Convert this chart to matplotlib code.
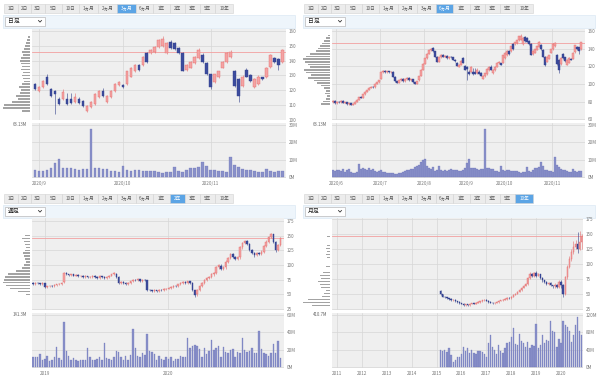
import matplotlib
matplotlib.use("Agg")
import matplotlib.pyplot as plt
from matplotlib.patches import Rectangle
import numpy as np

plt.rcParams["font.family"] = ["Noto Sans CJK JP", "DejaVu Sans"]

# ---------------- data ----------------
ranges = ["1日", "2日", "3日", "5日", "10日", "1ヵ月", "2ヵ月", "3ヵ月", "6ヵ月", "1年", "2年", "3年", "5年", "10年"]
ref_price = 146

# 3ヵ月 (daily, Sep - Nov 2020)
sep_nov_open = [124.0, 119.3, 122.0, 129.3, 120.7, 119.3, 114.0, 114.0, 114.0, 114.0, 112.0, 114.0, 112.7, 106.0, 108.7,
                110.7, 115.3, 119.3, 112.0, 115.3, 119.3, 123.3, 123.3, 124.0, 129.3, 132.7, 137.3, 137.3, 145.3, 145.3,
                146.0, 149.3, 150.0, 145.3, 152.7, 152.0, 148.7, 145.3, 134.0, 135.3, 138.7, 142.0, 144.0, 138.7, 130.7,
                125.3, 128.7, 135.3, 139.3, 142.7, 132.7, 127.3, 122.7, 134.0, 130.0, 122.0, 124.0, 128.7, 128.7, 136.0,
                142.0, 141.3, 139.3]
sep_nov_close = [120.7, 122.0, 126.0, 124.0, 116.0, 117.3, 110.7, 118.7, 110.7, 111.3, 115.3, 111.3, 109.3, 109.3, 112.0,
                 117.3, 119.3, 116.0, 116.0, 119.3, 124.0, 125.3, 122.0, 132.7, 135.3, 137.3, 134.0, 142.7, 139.3, 147.3,
                 149.3, 154.0, 154.7, 152.0, 148.7, 148.0, 145.3, 133.3, 137.3, 139.3, 142.7, 147.3, 139.3, 130.7, 122.0,
                 130.7, 132.7, 139.3, 145.3, 146.0, 122.7, 116.0, 129.3, 129.3, 126.0, 127.3, 129.3, 127.3, 135.3, 144.0,
                 139.3, 137.3, 147.3]
sep_nov_high = [125.0, 122.7, 126.7, 130.7, 121.3, 120.0, 115.3, 120.7, 118.0, 118.0, 118.0, 115.3, 113.3, 110.0, 112.7,
                118.0, 120.0, 121.3, 116.7, 120.0, 124.7, 126.0, 124.0, 133.3, 136.0, 138.0, 138.0, 143.3, 146.0, 148.0,
                150.0, 154.7, 156.7, 152.7, 154.0, 152.7, 149.3, 146.0, 138.0, 140.0, 143.3, 148.7, 145.3, 139.3, 131.3,
                131.3, 133.3, 140.0, 146.0, 147.3, 134.0, 128.0, 130.0, 135.3, 130.7, 128.0, 130.0, 129.3, 136.0, 144.7,
                142.7, 142.0, 148.0]
sep_nov_low = [120.0, 118.7, 121.3, 123.3, 115.3, 104.0, 110.0, 113.3, 110.0, 110.7, 111.3, 110.7, 108.7, 105.3, 108.0,
               110.0, 114.7, 115.3, 111.3, 114.7, 118.7, 122.7, 121.3, 123.3, 128.7, 132.0, 133.3, 136.7, 138.7, 144.7,
               145.3, 148.7, 149.3, 144.7, 148.0, 147.3, 144.7, 132.7, 133.3, 134.7, 138.0, 141.3, 138.7, 130.0, 120.7,
               124.7, 128.0, 134.7, 138.7, 142.0, 122.0, 112.0, 122.0, 128.7, 125.3, 121.3, 123.3, 126.7, 128.0, 135.3,
               138.7, 134.0, 138.7]
sep_nov_volume = [4.4, 3.8, 3.8, 4.4, 5.2, 8.3, 10.6, 5.2, 5.2, 5.4, 4.8, 4.0, 4.8, 4.8, 27.9, 5.2, 5.4, 4.8, 4.8, 3.8,
                  3.8, 3.3, 6.3, 4.4, 3.8, 4.2, 4.2, 3.8, 3.8, 3.8, 3.8, 3.3, 2.5, 2.9, 3.3, 5.8, 3.8, 2.9, 4.4, 5.2,
                  5.4, 5.8, 9.0, 6.3, 4.4, 4.2, 3.8, 3.8, 3.3, 11.5, 7.1, 5.8, 4.8, 4.4, 4.4, 3.8, 3.3, 3.3, 4.8, 3.8,
                  3.3, 3.8, 3.8]
sep_nov_ticks = [1, 22, 44]
sep_nov_labels = ["2020/9", "2020/10", "2020/11"]
sep_nov_prof_price = [106, 108, 110, 112, 114, 116, 118, 120, 122, 124, 126, 128, 130, 132, 134, 136, 138, 140, 142,
                      144, 146, 148, 150, 152, 154, 156]
sep_nov_prof_len = [8, 27, 26, 18, 12, 14, 10, 9, 11, 8, 6, 7, 8, 7, 9, 8, 9, 10, 9, 7, 8, 6, 5, 4, 3, 2]

# 6ヵ月 = Jun - Aug 2020 (daily) + the 3ヵ月 series
jun_aug_open = [79, 81, 78, 80, 79, 81, 78.5, 79.5, 77, 78, 76, 77.5, 80, 82, 85, 84, 88, 91, 93, 95.5, 97, 96, 100,
                102, 106, 113, 115, 113, 114.5, 113, 114, 108, 103, 101, 104, 106, 103, 105, 107, 104, 105, 102, 100,
                104, 109, 116, 123, 129, 134, 138, 141, 137, 131, 125, 130, 133, 131, 132, 129, 131, 130, 127.5]
jun_aug_close = [81, 78, 80, 79, 81, 78.5, 79.5, 77, 78, 76, 77.5, 80, 82, 85, 84, 88, 91, 93, 95.5, 97, 96, 100, 102,
                 104, 113, 115, 113, 114.5, 113, 114, 108, 103, 101, 104, 106, 103, 105, 107, 104, 105, 102, 100, 103,
                 109, 116, 123, 129, 134, 138, 140, 137, 131, 125, 130, 133, 131, 132, 129, 131, 130, 127.5, 126]
jun_aug_high = [82, 81.5, 80.5, 81, 82, 81.5, 80, 80, 78.5, 78.5, 78, 80.5, 82.5, 85.5, 86, 88.5, 91.5, 93.5, 96, 97.5,
                97.5, 100.5, 102.5, 104.5, 113.5, 116, 116, 115, 115, 114.5, 114.5, 108.5, 103.5, 104.5, 107, 106.5,
                105.5, 108, 107.5, 106, 105.5, 102.5, 103.5, 109.5, 116.5, 123.5, 129.5, 134.5, 138.5, 141, 142, 137.5,
                131.5, 130.5, 134, 133.5, 132.5, 132.5, 131.5, 131.5, 130.5, 128]
jun_aug_low = [78, 77.5, 77.5, 78.5, 78.5, 78, 78, 76.5, 76.5, 75.5, 75.5, 77, 79.5, 81.5, 83.5, 83.5, 87.5, 90.5, 92.5,
               95, 95.5, 95.5, 99.5, 101.5, 105.5, 112.5, 112.5, 112.5, 112.5, 112.5, 107.5, 102.5, 100.5, 100.5, 103.5,
               102.5, 102.5, 104.5, 103.5, 103.5, 101.5, 99.5, 99.5, 103.5, 108.5, 115.5, 122.5, 128.5, 133.5, 137.5,
               136.5, 130.5, 124.5, 124.5, 129.5, 130.5, 130.5, 128.5, 128.5, 129.5, 127, 125]
jun_aug_volume = [4.2, 3.8, 4.0, 4.4, 3.6, 4.6, 3.4, 4.0, 4.8, 3.0, 2.8, 2.6, 3.2, 7.4, 4.6, 5.5, 4.8, 4.2, 5.6, 4.4,
                  5.0, 3.8, 3.4, 3.6, 4.0, 3.0, 3.2, 2.6, 2.4, 2.6, 2.8, 2.2, 2.0, 2.4, 2.6, 3.2, 3.8, 4.4, 4.0, 4.6,
                  5.0, 5.8, 6.4, 7.2, 8.6, 10.2, 10.6, 6.8, 5.4, 4.8, 5.8, 3.6, 4.2, 6.6, 4.4, 3.6, 4.0, 3.6, 4.2, 5.0,
                  4.4, 4.0]
six_m_ticks = [1.5, 23.5, 45.5, 66.5, 86, 109.5]
six_m_labels = ["2020/6", "2020/7", "2020/8", "2020/9", "2020/10", "2020/11"]
six_m_prof_price = [77, 80, 83, 86, 89, 92, 95, 98, 101, 104, 107, 110, 113, 116, 119, 122, 125, 128, 131, 134, 137,
                    140, 143, 146, 149, 152, 155]
six_m_prof_len = [9, 7, 4, 3, 5, 4, 6, 9, 13, 16, 22, 19, 24, 26, 20, 22, 25, 27, 24, 20, 14, 12, 10, 8, 6, 4, 2]

# 2年 (weekly)
wk_open = [70, 68, 70, 69, 67, 69, 62, 64, 65, 64, 66, 67, 68, 71, 86, 84, 83, 84, 82, 83, 81, 82, 80, 81, 79, 80, 82,
           79, 78, 81, 80, 78, 80, 82, 84, 85, 80, 69, 71, 70, 68, 70, 72, 75, 74, 76, 73, 75, 74, 58, 57, 56, 57, 56,
           58, 57, 59, 60, 61, 63, 65, 64, 67, 69, 71, 70, 72, 70, 57, 50, 58, 64, 70, 74, 78, 80, 84, 86, 96, 99, 94,
           96, 106, 112, 118, 114, 110, 113, 130, 138, 141, 136, 126, 120, 117, 121, 119, 123, 132, 140, 148, 152, 140,
           126, 134]
wk_close = [68, 70, 69, 67, 69, 62, 64, 65, 64, 66, 67, 68, 70, 86, 84, 83, 84, 82, 83, 81, 82, 80, 81, 79, 80, 82, 79,
            78, 81, 80, 78, 80, 82, 84, 86, 80, 69, 71, 70, 68, 70, 72, 75, 74, 76, 73, 75, 74, 58, 57, 56, 57, 56, 58,
            57, 59, 60, 61, 63, 65, 64, 67, 69, 71, 70, 72, 70, 57, 49, 58, 64, 70, 74, 78, 80, 84, 86, 96, 100, 94, 96,
            106, 112, 118, 114, 110, 113, 130, 138, 141, 136, 126, 120, 117, 121, 119, 123, 132, 140, 148, 152, 140,
            126, 134, 146]
wk_high = [71.5, 71, 71.5, 70, 70.5, 70, 65, 66.5, 66, 67, 68.5, 69.5, 71.5, 88, 87.5, 85.5, 85.5, 85, 84.5, 84, 83.5,
           83, 82.5, 82, 81.5, 83.5, 83, 80.5, 82.5, 82, 81, 81.5, 83.5, 85.5, 88, 86.5, 81, 72.5, 72, 71, 71.5, 73.5,
           76.5, 76, 77.5, 77, 76.5, 76, 75, 59.5, 58, 58.5, 58, 59.5, 59, 60.5, 61.5, 62.5, 64.5, 66.5, 66, 68.5, 70.5,
           72.5, 72, 73.5, 73, 71, 58, 60, 66, 71.5, 76, 80, 82, 86, 88, 98, 102, 101, 97.5, 108, 114, 120, 120, 115.5,
           115, 132, 140, 143, 142.5, 137.5, 128, 121.5, 123, 122.5, 125, 134, 142, 150, 155, 153.5, 141.5, 136, 148]
wk_low = [66.5, 66.5, 67.5, 65.5, 65.5, 60.5, 60.5, 62.5, 62.5, 62.5, 64.5, 65.5, 66.5, 69.5, 82.5, 81.5, 81.5, 80.5,
          80.5, 79.5, 79.5, 78.5, 78.5, 77.5, 77.5, 78.5, 77.5, 76.5, 76.5, 78.5, 76.5, 76.5, 78.5, 80.5, 82.5, 78.5,
          67, 67.5, 68.5, 66.5, 66.5, 68.5, 70.5, 73, 72.5, 71.5, 71.5, 72.5, 56, 55.5, 54.5, 54.5, 54.5, 54.5, 55.5,
          55.5, 57.5, 58.5, 59.5, 61.5, 62.5, 62.5, 65.5, 67.5, 68.5, 68.5, 68.5, 55, 46, 48, 56, 62, 68, 72, 76, 78,
          82, 84, 94, 92, 92, 94, 104, 110, 112, 108, 108, 111, 128, 136, 134, 124, 118, 114, 115, 117, 117, 121, 130,
          138, 146, 138, 123, 124, 132]
wk_volume = [12, 12, 12, 15.5, 9, 10, 13, 7, 9, 12, 23.5, 11, 9, 52, 19, 13, 9, 11, 8, 7,
             8, 8, 9, 22, 12, 9, 8, 10, 12, 9, 28, 11, 10, 9, 12, 19, 18, 12, 9, 13,
             8, 14, 43.5, 22, 13, 12, 16, 14, 38, 19, 18, 15, 9, 13, 10, 8, 12, 10, 12, 7,
             10, 10, 13, 12, 12, 34, 22, 25, 26, 24, 21, 12, 22, 15, 19, 31, 20, 22, 25, 12,
             23, 18, 17, 20, 21, 12, 18, 17, 34, 20, 18, 19, 22, 16, 17, 42, 21, 17, 15, 13,
             16, 27, 17, 30, 11]
wk_ticks = [5, 56.7]
wk_labels = ["2019", "2020"]
wk_prof_price = [50, 55, 60, 65, 70, 75, 80, 85, 90, 95, 100, 105, 110, 115, 120, 125, 130, 135, 140, 145, 150]
wk_prof_len = [4, 12, 20, 24, 27, 26, 25, 22, 14, 8, 6, 4, 5, 6, 7, 5, 4, 5, 6, 8, 5]

# 10年 (monthly, months counted from Jan 2011)
mo_first = 50
mo_open = [54, 49, 45, 44, 42, 41, 39, 40, 37, 36, 34, 33, 31, 32, 31, 33, 34, 33, 35, 36, 37, 39, 40, 38, 36, 35, 34,
           35, 36, 38, 39, 40, 41, 43, 42, 45, 48, 50, 53, 56, 60, 63, 66, 76, 82, 79, 84, 80, 82, 76, 72, 70, 66, 68,
           64, 62, 65, 61, 70, 64, 50, 78, 95, 108, 120, 128, 132, 124, 136]
mo_close = [49, 45, 44, 42, 41, 39, 40, 37, 36, 34, 33, 31, 32, 31, 33, 34, 33, 35, 36, 37, 39, 40, 38, 36, 35, 34, 35,
            36, 38, 39, 40, 41, 43, 42, 45, 48, 50, 53, 56, 60, 63, 66, 76, 82, 79, 84, 80, 82, 76, 72, 70, 66, 68, 64,
            62, 65, 61, 70, 64, 50, 78, 95, 108, 120, 128, 132, 124, 136, 146]
mo_high = [56, 50, 46, 45, 43, 42, 41, 41, 38, 37, 35, 34, 33, 33, 34, 35, 35, 36, 37, 38, 40, 41, 41, 39, 37, 36, 36,
           37, 39, 40, 41, 42, 44, 44, 46, 49, 51, 54, 57, 61, 64, 68, 78, 86, 84, 86, 87, 84, 83, 77, 73, 71, 70, 69,
           65, 67, 66, 72, 72, 66, 80, 98, 112, 124, 138, 140, 152, 155, 150]
mo_low = [48, 44, 43, 41, 40, 38, 38, 36, 35, 33, 32, 30, 30, 30, 30, 32, 32, 32, 34, 35, 36, 38, 37, 35, 34, 33, 33,
          34, 35, 37, 38, 39, 40, 41, 41, 44, 47, 49, 52, 55, 59, 62, 64, 74, 77, 77, 78, 79, 74, 70, 68, 64, 64, 62,
          60, 60, 59, 59, 60, 45, 47, 74, 92, 104, 116, 124, 118, 122, 125]
mo_volume = [40, 38, 39, 36, 44, 29, 12, 18, 24, 24, 30, 47, 38, 44, 34, 40, 34, 30, 38, 38,
             36, 31, 23, 56, 75, 47, 40, 31, 51, 38, 33, 44, 55, 58, 69, 91, 53, 51, 76, 60,
             55, 47, 58, 44, 51, 48, 98, 44, 51, 73, 55, 63, 60, 105, 84, 80, 47, 65, 55, 105,
             97, 92, 84, 58, 75, 97, 116, 84, 73]
mo_ticks = [0, 12, 24, 36, 48, 60, 72, 84, 96, 108]
mo_labels = ["2011", "2012", "2013", "2014", "2015", "2016", "2017", "2018", "2019", "2020"]
mo_prof_price = [30, 35, 40, 45, 50, 55, 60, 65, 70, 75, 80, 85, 90, 95, 100, 105, 110, 115, 120, 125, 130, 135, 140,
                 145, 150]
mo_prof_len = [18, 27, 22, 8, 6, 4, 9, 10, 12, 9, 10, 7, 0, 4, 0, 0, 3, 4, 3, 4, 3, 0, 0, 3, 0]

# ---------------- figure ----------------
W, H = 600, 377
fig = plt.figure(figsize=(6, 3.77), dpi=100)


def box(x0, y0, x1, y1):
    return fig.add_axes([x0 / W, 1 - y1 / H, (x1 - x0) / W, (y1 - y0) / H])


ui = fig.add_axes([0, 0, 1, 1])
ui.set_xlim(0, W)
ui.set_ylim(H, 0)
ui.axis("off")


def draw_ui(ox, oy, selected, mode):
    # range buttons
    edges = [4, 18, 30.5, 45, 61.5, 79, 97.5, 117, 135.5, 153, 169.5, 184.5, 199.5, 215, 233]
    for k, lab in enumerate(ranges):
        x0, x1 = ox + edges[k], ox + edges[k + 1]
        sel = lab == selected
        ui.add_patch(Rectangle((x0, oy), x1 - x0, 9, fc="#5ba4e5" if sel else "#ececec",
                               ec="#d2d2d2", lw=0.4))
        ui.text((x0 + x1) / 2, oy + 4.6, lab, fontsize=3.3, ha="center", va="center",
                color="white" if sel else "#555555")
    # select row
    ui.add_patch(Rectangle((ox + 3, oy + 11), 292, 13.5, fc="#eef5fb", ec="#d5e5f2", lw=0.4))
    ui.add_patch(Rectangle((ox + 5, oy + 13), 40, 9.5, fc="white", ec="#a9a9a9", lw=0.4))
    ui.text(ox + 8, oy + 17.8, mode, fontsize=4.2, va="center", ha="left", color="#222222")
    ui.plot([ox + 38.5, ox + 40, ox + 41.5], [oy + 17, oy + 18.6, oy + 17], color="#333333", lw=0.6)


def style(ax, xlim, ylim, xticks, yticks, ylabels):
    ax.set_facecolor("#efefef")
    for s in ax.spines.values():
        s.set_visible(False)
    ax.set_xlim(xlim)
    ax.set_ylim(ylim)
    ax.set_xticks(xticks)
    ax.set_yticks(yticks)
    ax.set_yticklabels(ylabels)
    ax.yaxis.tick_right()
    ax.tick_params(axis="y", length=0, labelsize=3.3, colors="#777777", pad=2)
    ax.tick_params(axis="x", length=0, labelsize=3.3, colors="#777777", pad=2)
    ax.grid(True, color="#d6d6d6", lw=0.5)
    ax.set_axisbelow(True)


def draw_panel(pbox, vbox, prbox, x, o, c, hi, lo, vol, xlim, ylim, yticks, vticks, vlabels,
               xticks, xlabels, prof_p, prof_len, prof_h, vtext):
    o, c, hi, lo = map(np.asarray, (o, c, hi, lo))
    up = c >= o
    body_col = np.where(up, "#f4a3a3", "#3c4c9e")
    edge_col = np.where(up, "#e36c6c", "#2f3d8a")

    ax = box(*pbox)
    style(ax, xlim, ylim, xticks, yticks, [str(t) for t in yticks])
    ax.tick_params(axis="x", labelbottom=False)
    ax.vlines(x, lo, hi, colors=edge_col, lw=0.4, zorder=2)
    ax.bar(x, np.maximum(np.abs(c - o), 0.25), bottom=np.minimum(o, c), width=0.62,
           color=body_col, edgecolor=edge_col, lw=0.3, zorder=3)
    ax.axhline(ref_price, color="#f2a0a0", lw=0.6, zorder=1)

    axv = box(*vbox)
    style(axv, xlim, (vticks[0] - 0.01 * vticks[-1], vticks[-1] * 1.035), xticks, vticks, vlabels)
    axv.set_xticklabels(xlabels)
    axv.bar(x, vol, width=0.62, color="#8a91c9", edgecolor="#6a72b8", lw=0.2, zorder=3)

    axp = box(*prbox)
    axp.barh(prof_p, prof_len, height=prof_h, color="#a3a3a3")
    axp.set_xlim(28, 0)
    axp.set_ylim(ylim)
    axp.axis("off")

    ui.text(prbox[2] - 3, vbox[1] + 1, vtext, fontsize=3.1, ha="right", va="center", color="#666666")


# top left: 3ヵ月 / 日足
draw_ui(0, 3.5, "3ヵ月", "日足")
draw_panel((32, 29, 286, 120), (32, 123, 286, 178), (2, 29, 30, 120),
           np.arange(len(sep_nov_open)), sep_nov_open, sep_nov_close, sep_nov_high, sep_nov_low, sep_nov_volume,
           (-0.75, 62.9), (100, 161.3), list(range(100, 161, 10)), [0, 10, 20, 30], ["0M", "10M", "20M", "30M"],
           sep_nov_ticks, sep_nov_labels, sep_nov_prof_price, sep_nov_prof_len, 1.2, "63.13M")

# top right: 6ヵ月 / 日足
six_o = jun_aug_open + sep_nov_open
six_c = jun_aug_close + sep_nov_close
six_h = jun_aug_high + sep_nov_high
six_l = jun_aug_low + sep_nov_low
six_v = jun_aug_volume + sep_nov_volume
draw_ui(300, 3.5, "6ヵ月", "日足")
draw_panel((332, 29, 585, 120), (332, 123, 585, 178), (302, 29, 330, 120),
           np.arange(len(six_o)), six_o, six_c, six_h, six_l, six_v,
           (-0.5, 126), (59, 162.3), list(range(60, 161, 20)), [0, 10, 20, 30], ["0M", "10M", "20M", "30M"],
           six_m_ticks, six_m_labels, six_m_prof_price, six_m_prof_len, 1.8, "63.13M")

# bottom left: 2年 / 週足
draw_ui(0, 193.5, "2年", "週足")
draw_panel((32, 218, 284, 310), (32, 313, 284, 368), (2, 218, 30, 310),
           np.arange(len(wk_open)), wk_open, wk_close, wk_high, wk_low, wk_volume,
           (-0.4, 105.5), (23.5, 180), list(range(25, 176, 25)), [0, 20, 40, 60], ["0M", "20M", "40M", "60M"],
           wk_ticks, wk_labels, wk_prof_price, wk_prof_len, 2.8, "141.3M")

# bottom right: 10年 / 月足
draw_ui(300, 193.5, "10年", "月足")
draw_panel((332, 218, 583, 310), (332, 313, 583, 368), (302, 218, 330, 310),
           np.arange(mo_first, mo_first + len(mo_open)), mo_open, mo_close, mo_high, mo_low, mo_volume,
           (-2.4, 118.6), (22.5, 176), list(range(25, 176, 25)), [0, 40, 80, 120], ["0M", "40M", "80M", "120M"],
           mo_ticks, mo_labels, mo_prof_price, mo_prof_len, 2.8, "410.7M")

fig.savefig("out.png", dpi=100)
